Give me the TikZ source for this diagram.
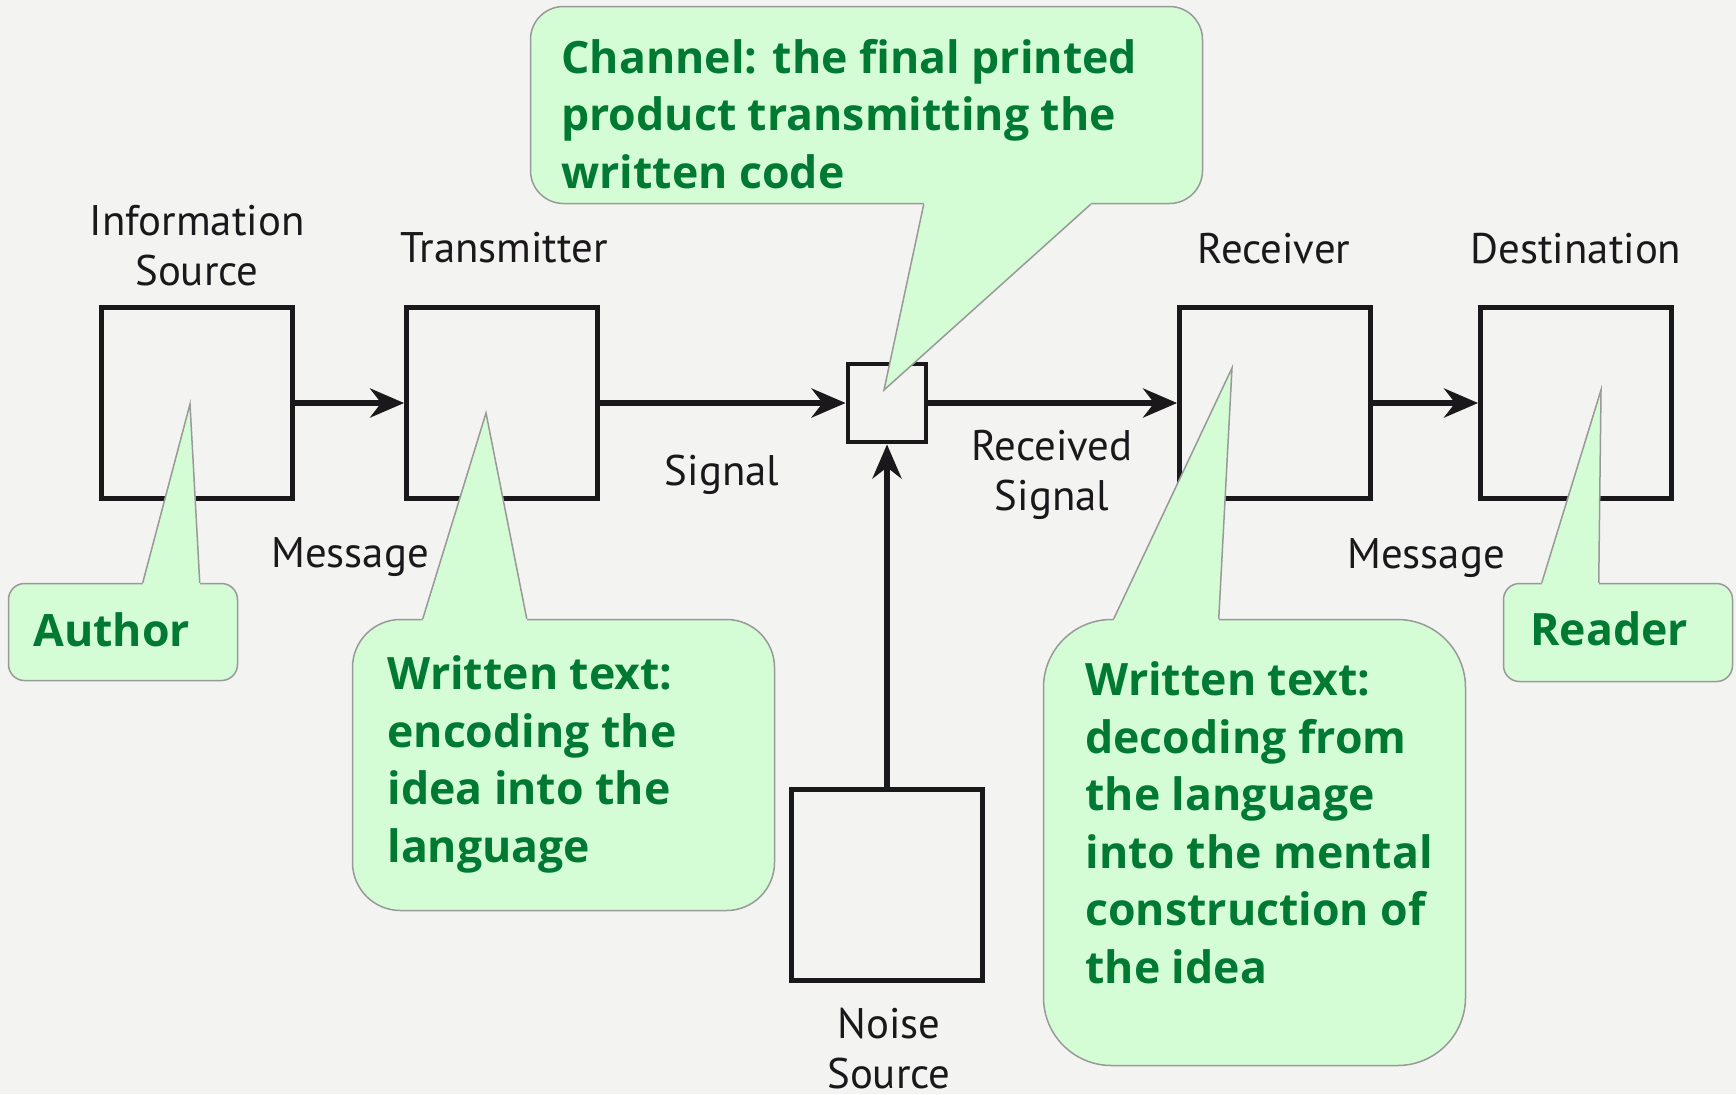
\documentclass[tikz,border=0pt]{standalone}
\usepackage{fontspec}
\setmainfont{PT Sans}
\newfontfamily\notefont{Open Sans}
\usetikzlibrary{arrows.meta,calc}
\definecolor{paper}{HTML}{F3F3F1}
\definecolor{notegreen}{HTML}{D4FCD5}
\definecolor{noteborder}{HTML}{999999}
\definecolor{notetext}{HTML}{007A33}
\definecolor{ink}{HTML}{1A181B}

\begin{document}
\begin{tikzpicture}[x=0.5pt,y=-0.5pt]
        \tikzstyle{block}=[rectangle,draw=ink,line width=2.4pt,inner sep=0pt,minimum size=95.5pt]
        \tikzstyle{small block}=[block,minimum size=39pt]
        \tikzstyle{boxlabel}=[font=\fontsize{21.4}{25}\selectfont,text=ink,align=center,inner sep=0pt,anchor=base]
        \tikzstyle{note}=[rectangle,draw=noteborder,fill=notegreen,line width=0.75pt,inner sep=0pt]
        \tikzstyle{note text}=[font=\notefont\bfseries\fontsize{22.3}{28.75}\selectfont,text=notetext,align=left,inner sep=0pt,anchor=base west]
        \tikzstyle{flow}=[draw=ink,line width=3.2pt,-{Stealth[length=17pt,width=14.5pt]}]
        % #1 corner of the note, #2 #3 base offsets, #4 tip, #5 overlap into the note
        \def\pointer#1#2#3#4#5{
          \fill[notegreen] ($(#1)+(#2,#5)$) -- ($(#1)+(#2,0)$) -- (#4)
            -- ($(#1)+(#3,0)$) -- ($(#1)+(#3,#5)$) -- cycle;
          \draw[noteborder,line width=0.75pt] ($(#1)+(#2,0)$) -- (#4) -- ($(#1)+(#3,0)$);}
        \useasboundingbox (0,0) rectangle (1736,1094);
        \fill[paper] (0,0) rectangle (1736,1094);
        % the five stages and the noise
        \node at ( 197,403) [block] (source) {};
        \node at ( 502,403) [block] (trans) {};
        \node at ( 887,403) [small block] (chan) {};
        \node at (1275,403) [block] (recv) {};
        \node at (1576,403) [block] (dest) {};
        \node at ( 887,885) [block] (noise) {};
        \draw[flow] (source) -- (trans);
        \draw[flow] (trans) -- (chan);
        \draw[flow] (chan) -- (recv);
        \draw[flow] (recv) -- (dest);
        \draw[flow] (noise) -- (chan);
        % labels (base = last line)
        \node at ( 197,285) [boxlabel] (sourcelabel) {Information\\Source};
        \node at ( 504,262) [boxlabel] (translabel) {Transmitter};
        \node at (1274,263) [boxlabel] (recvlabel) {Receiver};
        \node at (1576,263) [boxlabel] (destlabel) {Destination};
        \node at ( 350,567) [boxlabel] (msgin) {Message};
        \node at ( 722,485) [boxlabel] (signal) {Signal};
        \node at (1052,510) [boxlabel] (recsignal) {Received\\Signal};
        \node at (1426,568) [boxlabel] (msgout) {Message};
        \node at ( 889,1088) [boxlabel] (noiselabel) {Noise\\Source};
        % callouts
        \coordinate (authortip) at (190,404);
        \coordinate (readertip) at (1601,390);
        \coordinate (chantip) at (884,390);
        \coordinate (enctip) at (486,413);
        \coordinate (dectip) at (1232,368);
        \node at ( 123,632) [note,minimum width=114.5pt,minimum height=48.5pt,rounded corners=8pt] (author) {};
        \pointer{author.north west}{135}{192}{authortip}{3}
        \node at (1618,632.5) [note,minimum width=114.5pt,minimum height=49pt,rounded corners=8pt] (reader) {};
        \pointer{reader.north west}{39}{96}{readertip}{3}
        \node at (866.5,105) [note,minimum width=336pt,minimum height=98.5pt,rounded corners=16.5pt] (channote) {};
        \pointer{channote.south west}{394}{561}{chantip}{-3}
        \node at (563.5,765) [note,minimum width=211pt,minimum height=145.5pt,rounded corners=24pt] (encnote) {};
        \pointer{encnote.north west}{71}{175}{enctip}{3}
        \node at (1254.5,842.5) [note,minimum width=211pt,minimum height=223pt,rounded corners=34pt] (decnote) {};
        \pointer{decnote.north west}{71}{176}{dectip}{3}
        \node at (33,646) [note text] (authortext) {Author};
        \node at (1530,645) [note text] (readertext) {Reader};
        \node at (561,188) [note text] (chantext) {Channel: the final printed\\product transmitting the\\written code};
        \node at (387,862) [note text] (enctext) {Written text:\\encoding the\\idea into the\\language};
        \node at (1085,983) [note text] (dectext) {Written text:\\decoding from\\the language\\into the mental\\construction of\\the idea};
\end{tikzpicture}
\end{document}
